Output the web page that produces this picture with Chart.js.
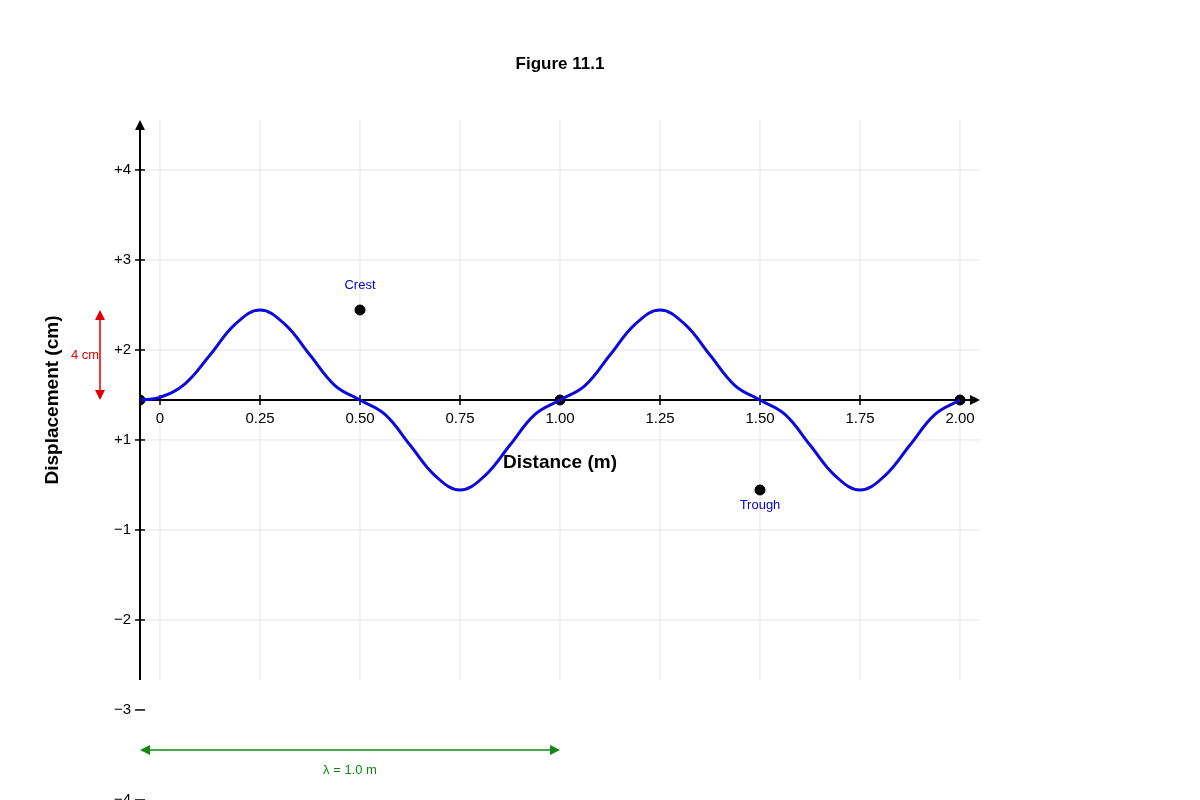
<!DOCTYPE html>
<html>
<head>
<meta charset="utf-8">
<script src="https://cdn.jsdelivr.net/npm/chart.js@4"></script>
<style>body{margin:0;background:#fff}canvas{display:block}</style>
</head>
<body>
<canvas id="c" width="1200" height="800"></canvas>
<script>
// Data
const waveX = [-0.05, 0, 0.0625, 0.125, 0.1875, 0.25, 0.3125, 0.375, 0.4375, 0.5,
  0.5625, 0.625, 0.6875, 0.75, 0.8125, 0.875, 0.9375, 1.0,
  1.0625, 1.125, 1.1875, 1.25, 1.3125, 1.375, 1.4375, 1.5,
  1.5625, 1.625, 1.6875, 1.75, 1.8125, 1.875, 1.9375, 2.0];
const waveY = [0, 0.03, 0.18, 0.5, 0.84, 1, 0.84, 0.5, 0.16, 0,
  -0.16, -0.5, -0.84, -1, -0.84, -0.5, -0.16, 0,
  0.16, 0.5, 0.84, 1, 0.84, 0.5, 0.16, 0,
  -0.16, -0.5, -0.84, -1, -0.84, -0.5, -0.16, 0];
const dotX = [-0.05, 1.0, 2.0, 0.5, 1.5];
const dotY = [0, 0, 0, 1, -1];
const xTicks = [0, 0.25, 0.5, 0.75, 1.0, 1.25, 1.5, 1.75, 2.0];
const xTickLabels = ['0', '0.25', '0.50', '0.75', '1.00', '1.25', '1.50', '1.75', '2.00'];
const yTicks = [2.556, 1.556, 0.556, -0.444, -1.444, -2.444, -3.444, -4.444];
const yTickLabels = ['+4', '+3', '+2', '+1', '\u22121', '\u22122', '\u22123', '\u22124'];

function arrowHead(ctx, x, y, dir, size) {
  ctx.save(); ctx.translate(x, y); ctx.rotate(dir);
  ctx.beginPath(); ctx.moveTo(0, 0); ctx.lineTo(-size, -size / 2); ctx.lineTo(-size, size / 2);
  ctx.closePath(); ctx.fill(); ctx.restore();
}

const decor = {
  id: 'decor',
  beforeDatasetsDraw(chart) {
    const { ctx, chartArea: a, scales: { x, y } } = chart;
    ctx.save();
    ctx.strokeStyle = '#e6e6e6'; ctx.lineWidth = 1;
    xTicks.forEach(v => { const px = x.getPixelForValue(v); ctx.beginPath(); ctx.moveTo(px, a.top); ctx.lineTo(px, a.bottom); ctx.stroke(); });
    yTicks.forEach(v => { const py = y.getPixelForValue(v); if (py < a.top || py > a.bottom) return; ctx.beginPath(); ctx.moveTo(a.left, py); ctx.lineTo(a.right, py); ctx.stroke(); });
    // axes
    ctx.strokeStyle = '#000'; ctx.fillStyle = '#000'; ctx.lineWidth = 2;
    const y0 = y.getPixelForValue(0);
    ctx.beginPath(); ctx.moveTo(a.left, a.bottom); ctx.lineTo(a.left, a.top + 4); ctx.stroke();
    arrowHead(ctx, a.left, a.top, -Math.PI / 2, 10);
    ctx.beginPath(); ctx.moveTo(a.left, y0); ctx.lineTo(a.right - 4, y0); ctx.stroke();
    arrowHead(ctx, a.right, y0, 0, 10);
    ctx.lineWidth = 1.5;
    ctx.font = '15px Arial, "Liberation Sans"';
    ctx.textAlign = 'center'; ctx.textBaseline = 'top';
    xTicks.forEach((v, i) => {
      const px = x.getPixelForValue(v);
      ctx.beginPath(); ctx.moveTo(px, y0 - 5); ctx.lineTo(px, y0 + 5); ctx.stroke();
      ctx.fillText(xTickLabels[i], px, y0 + 11);
    });
    ctx.textAlign = 'right'; ctx.textBaseline = 'middle';
    yTicks.forEach((v, i) => {
      const py = y.getPixelForValue(v);
      ctx.beginPath(); ctx.moveTo(a.left - 5, py); ctx.lineTo(a.left + 5, py); ctx.stroke();
      ctx.fillText(yTickLabels[i], a.left - 9, py);
    });
    ctx.font = 'bold 19px Arial, "Liberation Sans"'; ctx.textAlign = 'center';
    ctx.fillText('Distance (m)', x.getPixelForValue(1.0), y0 + 63);
    ctx.save(); ctx.translate(53, 400); ctx.rotate(-Math.PI / 2);
    ctx.fillText('Displacement (cm)', 0, 0); ctx.restore();
    ctx.font = 'bold 17px Arial, "Liberation Sans"';
    ctx.fillText('Figure 11.1', 560, 64);
    // amplitude arrow
    const yc = y.getPixelForValue(1);
    ctx.strokeStyle = ctx.fillStyle = '#e00000';
    ctx.beginPath(); ctx.moveTo(100, yc + 8); ctx.lineTo(100, y0 - 8); ctx.stroke();
    arrowHead(ctx, 100, yc, -Math.PI / 2, 10); arrowHead(ctx, 100, y0, Math.PI / 2, 10);
    ctx.font = '13px Arial, "Liberation Sans"'; ctx.fillText('4 cm', 85, 355);
    // wavelength arrow
    const xa = x.getPixelForValue(-0.05), xb = x.getPixelForValue(1.0);
    ctx.strokeStyle = ctx.fillStyle = '#118811';
    ctx.beginPath(); ctx.moveTo(xa + 8, 750); ctx.lineTo(xb - 8, 750); ctx.stroke();
    arrowHead(ctx, xa, 750, Math.PI, 10); arrowHead(ctx, xb, 750, 0, 10);
    ctx.fillText('\u03bb = 1.0 m', (xa + xb) / 2, 770);
    // labels
    ctx.fillStyle = '#0000cc';
    ctx.fillText('Crest', x.getPixelForValue(0.5), y.getPixelForValue(1) - 25);
    ctx.fillText('Trough', x.getPixelForValue(1.5), y.getPixelForValue(-1) + 15);
    ctx.restore();
  }
};

new Chart(document.getElementById('c'), {
  type: 'scatter',
  data: {
    datasets: [
      { type: 'line', data: waveX.map((v, i) => ({ x: v, y: waveY[i] })), borderColor: '#0a0adc', borderWidth: 3, pointRadius: 0, tension: 0.4, fill: false },
      { data: dotX.map((v, i) => ({ x: v, y: dotY[i] })), backgroundColor: '#000', borderColor: '#000', pointRadius: 5 }
    ]
  },
  options: {
    responsive: false, animation: false,
    layout: { padding: { left: 140, right: 220, top: 120, bottom: 120 } },
    plugins: { legend: { display: false }, tooltip: { enabled: false } },
    scales: {
      x: { type: 'linear', min: -0.05, max: 2.05, display: false },
      y: { type: 'linear', min: -3.111, max: 3.111, display: false }
    }
  },
  plugins: [decor]
});
</script>
</body>
</html>
